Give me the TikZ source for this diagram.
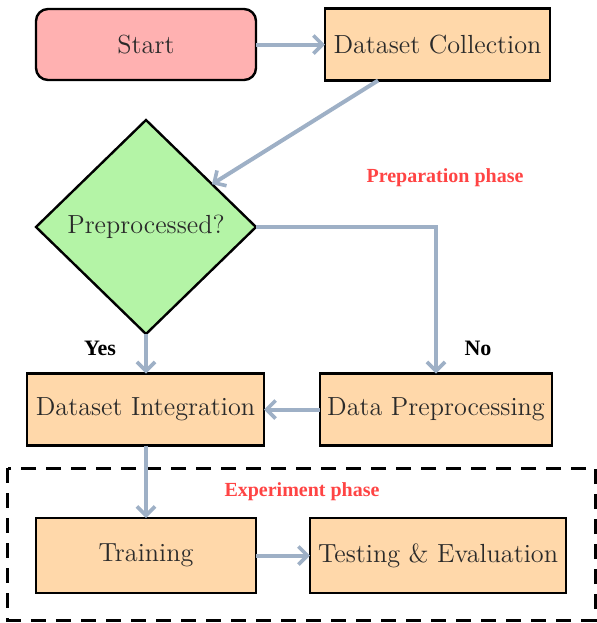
\documentclass[tikz,border=0pt]{standalone}
\usepackage{fontspec}
\newfontfamily\labelfont{Liberation Serif}
\usetikzlibrary{shapes.geometric,arrows.meta,calc}

\definecolor{startfill}{HTML}{FFB1B1}
\definecolor{boxfill}{HTML}{FFD8AA}
\definecolor{decfill}{HTML}{B4F4A6}
\definecolor{flow}{HTML}{9EB0C6}
\definecolor{phasered}{HTML}{FF4444}
\definecolor{boxtext}{HTML}{2A2A2A}

\tikzset{
  every node/.style={inner sep=0pt, outer sep=0pt},
  base/.style={draw=black, line width=1.2pt, text=boxtext,
               font=\fontsize{13.1}{15}\selectfont},
  startbox/.style={base, rectangle, rounded corners=6pt, fill=startfill,
                   minimum width=110pt, minimum height=35.5pt},
  procbox/.style={base, rectangle, fill=boxfill, minimum height=36pt},
  decision/.style={base, diamond, fill=decfill,
                   minimum width=110pt, minimum height=107pt},
  flowline/.style={draw=flow, line width=2pt,
                   -{Straight Barb[length=4.5pt,width=9pt,line width=1.8pt]}},
  phaselabel/.style={text=phasered, font=\labelfont\bfseries\fontsize{10}{12}\selectfont},
  branchlabel/.style={text=black, font=\labelfont\bfseries\fontsize{11}{13}\selectfont},
  phasebox/.style={draw=black, line width=1.5pt, dash pattern=on 7.5pt off 5pt}
}

\begin{document}
\begin{tikzpicture}[x=0.5pt, y=-0.5pt]
  \useasboundingbox (0,0) rectangle (597,623);

  % experiment phase frame
  \draw[phasebox] (8,468) rectangle (595,620);

  % nodes
  \node[startbox] (start) at (146,44.5) {Start};
  \node[procbox, minimum width=112.5pt] (collect) at (437.5,44.5) {Dataset Collection};
  \node[decision] (prep) at (146,227) {Preprocessed?};
  \node[procbox, minimum width=118.5pt] (integ) at (145.5,409.5) {Dataset Integration};
  \node[procbox, minimum width=116pt] (dprep) at (436,409.5) {Data Preprocessing};
  \node[procbox, minimum width=110pt, minimum height=37.5pt] (train) at (146,555.5) {Training};
  \node[procbox, minimum width=128pt, minimum height=37.5pt] (test) at (438,555.5) {Testing \& Evaluation};

  % labels
  \node[phaselabel] (preplbl) at (445,178) {Preparation phase};
  \node[phaselabel] (explbl) at (302,492) {Experiment phase};
  \node[branchlabel] (yes) at (100,348) {Yes};
  \node[branchlabel] (no) at (478,348) {No};

  % connectors
  \coordinate (collectout) at ($(collect.south west)!0.236!(collect.south east)$);
  \coordinate (prepin) at ($(prep.north)!0.6!(prep.east)$);
  \draw[flowline] (start.east) -- (collect.west);
  \draw[flowline] (collectout) -- (prepin);
  \draw[flowline] (prep.east) -| (dprep.north);
  \draw[flowline] (prep.south) -- (integ.north -| prep.south);
  \draw[flowline] (dprep.west) -- (integ.east);
  \draw[flowline] (integ.south -| train.north) -- (train.north);
  \draw[flowline] (train.east) -- (test.west);
\end{tikzpicture}
\end{document}
